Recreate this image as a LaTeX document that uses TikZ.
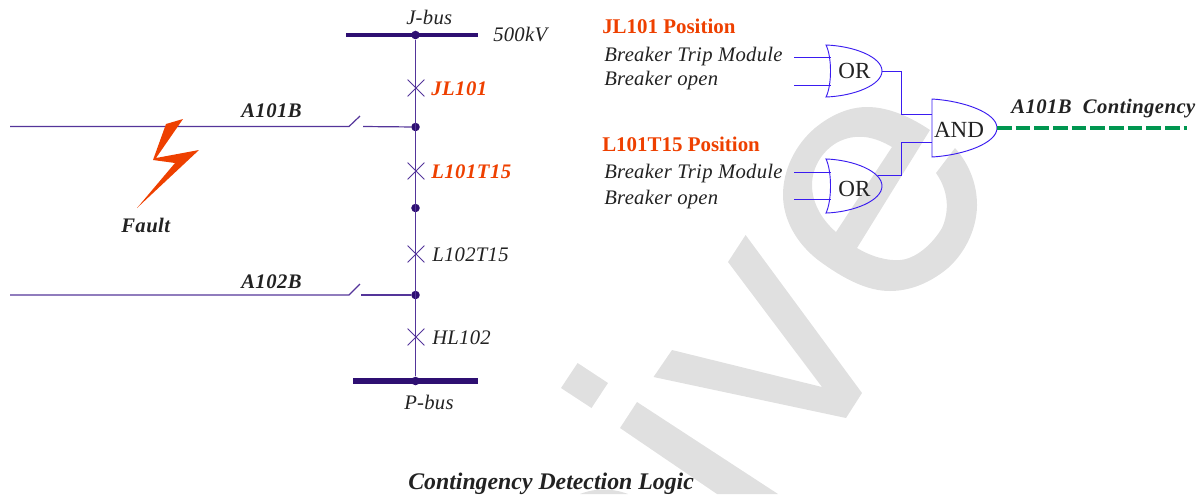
\documentclass[tikz,border=0pt]{standalone}
\usepackage{fontspec}
\setmainfont{Liberation Serif}
\usetikzlibrary{positioning,calc,shapes.misc}
\definecolor{wirecol}{HTML}{54359A}
\definecolor{dotcol}{HTML}{2E0F72}
\definecolor{gatecol}{HTML}{3A1CF0}
\definecolor{faultcol}{HTML}{EE4000}
\definecolor{trendcol}{HTML}{009650}
\definecolor{markcol}{HTML}{E0E0E0}
\definecolor{inkcol}{HTML}{222222}
\tikzstyle{every node}=[inner sep=0pt,text=inkcol]
\tikzstyle{wire}=[draw=wirecol,line width=.9pt]
\tikzstyle{logicwire}=[draw=gatecol,line width=.7pt]
\tikzstyle{busbar}=[draw=dotcol,line width=3.4pt]
\tikzstyle{junction}=[circle,fill=dotcol,minimum size=6.4pt]
\tikzstyle{breaker}=[cross out,draw=wirecol,line width=.6pt,minimum size=12pt]
\tikzstyle{plain}=[anchor=base west,font=\fontsize{15.5}{17}\selectfont\itshape\addfontfeatures{LetterSpace=1.4}]
\tikzstyle{hot}=[anchor=base west,text=faultcol,font=\fontsize{15.5}{17}\selectfont\itshape\bfseries\addfontfeatures{LetterSpace=2.5}]
\tikzstyle{head}=[anchor=base west,text=faultcol,font=\fontsize{15.7}{17}\selectfont\bfseries]
\tikzstyle{strong}=[anchor=base west,font=\fontsize{15.5}{17}\selectfont\itshape\bfseries\addfontfeatures{LetterSpace=2.2}]
\tikzstyle{gatetext}=[font=\fontsize{17.3}{19}\selectfont]
% gate outlines, drawn about the given centre
\newcommand{\orbody}[2]{\draw [logicwire,shift={#1},yscale=#2] (-28,-26) .. controls (0,-25) and (28,-14) .. (28,0)
    .. controls (28,14) and (0,25) .. (-28,26) .. controls (-22,14) and (-22,-14) .. (-28,-26) -- cycle;}
\newcommand{\andbody}[1]{\draw [logicwire,shift={#1}] (-32.5,-29) .. controls (0,-27) and (32.5,-15) .. (32.5,0)
    .. controls (32.5,15) and (0,27) .. (-32.5,29) -- cycle;}

\begin{document}
\begin{tikzpicture}[x=.75pt,y=-.75pt]
      \useasboundingbox (0,0) rectangle (1202,494);

      % grey mark behind the drawing
      \begin{scope}[even odd rule]
      \clip (0,0) rectangle (1202,494);
      \fill [markcol] (955,148) .. controls (970,165) and (977,185) .. (977,205) .. controls (977,225) and (968,250) .. (948,268)
          .. controls (930,283) and (910,291) .. (890,291) .. controls (868,291) and (845,280) .. (818,260)
          .. controls (795,242) and (783,218) .. (783,195) .. controls (783,170) and (795,145) .. (815,128)
          .. controls (832,114) and (850,107) .. (867,107) .. controls (890,107) and (912,118) .. (930,130)
          -- (857,248) .. controls (872,257) and (888,261) .. (900,260) .. controls (915,259) and (932,245) .. (942,228)
          .. controls (950,210) and (948,190) .. (936,173) -- cycle
          (892,147) -- (836,232) .. controls (822,220) and (812,203) .. (812,185) .. controls (812,165) and (825,148) .. (840,141)
          .. controls (858,133) and (875,137) .. (892,147) -- cycle;
      \fill [markcol] (745.6,235) -- (862,393) -- (846,418) -- (653.5,377) -- (672,350) -- (822,387) -- (728,262) -- cycle;
      \fill [markcol] (577.6,363) -- (608,383) -- (591.5,408) -- (561,388) -- cycle;
      \fill [markcol] (637,402) -- (778,494) -- (717,494) -- (620,428) -- cycle;
      \fill [markcol] (580,494) .. controls (595,488) and (612,488) .. (628,494) -- cycle;
      \end{scope}

      % one line diagram
      \coordinate (jleft) at (346,35);
      \coordinate (jright) at (478,35);
      \coordinate (pleft) at (353,381);
      \coordinate (pright) at (478,381);
      \node [junction] (jdot) at (415.5,35) {};
      \node [junction] (adot) at (415.5,127) {};
      \node [junction] (mdot) at (415.5,208) {};
      \node [junction] (bdot) at (415.5,295) {};
      \node [junction] (pdot) at (415.5,381) {};
      \node [breaker] (jl) at (416,88) {};
      \node [breaker] (lt) at (416,171) {};
      \node [breaker] (lb) at (416,254) {};
      \node [breaker] (hl) at (416,337) {};

      \draw [busbar] (jleft) -- (jright);
      \draw [busbar,line width=3.8pt] (pleft) -- (pright);
      \draw [wire] (jdot) -- (pdot);

      \coordinate (aend) at (10,126.5);
      \coordinate (ablade) at (349,126.5);
      \coordinate (atip) at (360,116);
      \coordinate (astub) at (363,126.5);
      \draw [wire] (aend) -- (ablade) -- (atip);
      \draw [wire] (astub) -- (adot);
      \coordinate (bend) at (10,295);
      \coordinate (bblade) at (349,295);
      \coordinate (btip) at (360,284);
      \coordinate (bstub) at (361,295);
      \draw [wire] (bend) -- (bblade) -- (btip);
      \draw [wire] (bstub) -- (bdot);

      \fill [faultcol] (183,119) -- (166,124) -- (153,160) -- (175,163) -- (137,208) -- (199,150) -- (156,158) -- cycle;

      \node [plain] (jbus) at (406,24) {J-bus};
      \node [plain] (kv) at (493,41) {500kV};
      \node [hot] (jltext) at (431,95) {JL101};
      \node [hot] (lttext) at (431,178) {L101T15};
      \node [plain] (lbtext) at (432,261) {L102T15};
      \node [plain] (hltext) at (432,344) {HL102};
      \node [plain] (pbus) at (404,409) {P-bus};
      \node [strong] (atext) at (241,117) {A101B};
      \node [strong] (btext) at (241,288) {A102B};
      \node [strong] (fault) at (121,232) {Fault};

      % trip logic
      \node [head] (posa) at (602,33) {JL101 Position};
      \node [plain] (tripa) at (604,61) {Breaker Trip Module};
      \node [plain] (opena) at (604,85) {Breaker open};
      \node [head] (posb) at (602,151) {L101T15 Position};
      \node [plain] (tripb) at (604,178) {Breaker Trip Module};
      \node [plain] (openb) at (604,204) {Breaker open};

      \orbody{(854,71)}{1}
      \orbody{(854,186)}{1.04}
      \andbody{(964.5,128)}
      \node [gatetext] (ora) at (854.5,71) {OR};
      \node [gatetext] (orb) at (854.5,189) {OR};
      \node [gatetext] (and) at (959,130) {AND};

      \coordinate (ina) at (794,57);
      \coordinate (inb) at (794,85);
      \coordinate (inc) at (794,172);
      \coordinate (ind) at (794,199);
      \coordinate (ora1) at (830.5,57);
      \coordinate (ora2) at (830.5,85);
      \coordinate (orb1) at (830.5,172);
      \coordinate (orb2) at (830.5,199);
      \coordinate (oraout) at (882,71);
      \coordinate (orbout) at (878,175);
      \coordinate (and1) at (932,114);
      \coordinate (and2) at (932,142);
      \coordinate (andout) at (997,128);
      \coordinate (trendend) at (1187,128);
      \draw [logicwire] (ina) -- (ora1);
      \draw [logicwire] (inb) -- (ora2);
      \draw [logicwire] (inc) -- (orb1);
      \draw [logicwire] (ind) -- (orb2);
      \draw [logicwire] (oraout) -- ++(19,0) |- (and1);
      \draw [logicwire] (orbout) -- ++(23,0) |- (and2);
      \draw [draw=trendcol,line width=2.6pt,dash pattern=on 11pt off 3pt] (andout) -- (trendend);

      \node [strong] (trend) at (1011,113) {A101B\ \ Contingency};
      \node [strong,font=\fontsize{17.85}{19}\selectfont\itshape\bfseries] (title) at (408,489) {Contingency Detection Logic};

\end{tikzpicture}
\end{document}
